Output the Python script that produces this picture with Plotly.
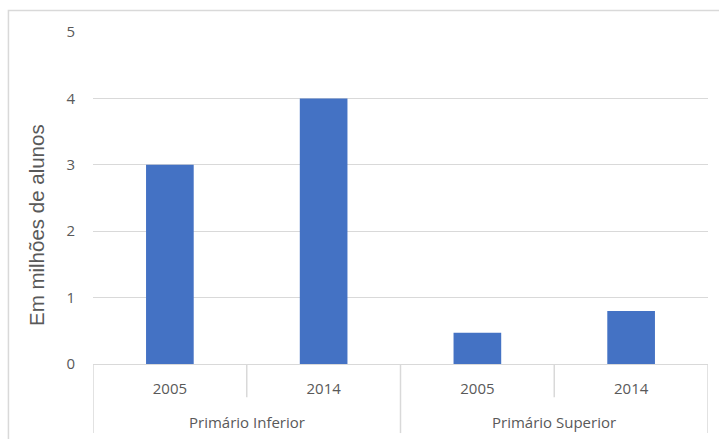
import plotly.graph_objects as go

# Student enrolment (millions) by school level and year
groups = ["Primário Inferior", "Primário Superior"]
years = ["2005", "2014", "2005", "2014"]
values = [3.0, 4.0, 0.47, 0.8]
y_ticks = [0, 1, 2, 3, 4, 5]

positions = list(range(len(years)))

bar_color = "#4472C4"
grid_color = "#D9D9D9"
text_color = "#595959"
label_font = dict(family="Open Sans", size=15, color=text_color)

fig = go.Figure(
    go.Bar(
        x=positions,
        y=values,
        width=0.31,
        marker=dict(color=bar_color, line=dict(width=0)),
        hoverinfo="skip",
    )
)

fig.update_layout(
    width=719,
    height=439,
    margin=dict(l=93, r=11, t=32, b=75),
    paper_bgcolor="white",
    plot_bgcolor="white",
    showlegend=False,
    xaxis=dict(
        range=[-0.5, len(years) - 0.5],
        tickmode="array",
        tickvals=positions,
        ticktext=years,
        tickfont=label_font,
        ticks="",
        ticklabelstandoff=11,
        showgrid=False,
        zeroline=False,
        showline=True,
        linecolor=grid_color,
        linewidth=1,
        fixedrange=True,
    ),
    yaxis=dict(
        range=[0, 5],
        tickmode="array",
        tickvals=y_ticks,
        tickfont=label_font,
        ticks="",
        ticklabelstandoff=17,
        showgrid=True,
        gridcolor=grid_color,
        gridwidth=1,
        zeroline=False,
        showline=False,
        fixedrange=True,
    ),
)

# y-axis title, centred on the full chart height
fig.add_annotation(
    text="Em milhões de alunos",
    textangle=-90,
    xref="paper", yref="paper",
    x=-0.091, y=0.4187,
    xanchor="center", yanchor="middle",
    showarrow=False,
    font=dict(family="Liberation Sans", size=20.5, color=text_color),
)

# Group labels under each pair of years
per_group = len(years) // len(groups)
for gi, name in enumerate(groups):
    centre = gi * per_group + (per_group - 1) / 2
    fig.add_annotation(
        text=name,
        xref="x", yref="paper",
        x=centre, y=-0.1747,
        xanchor="center", yanchor="middle",
        showarrow=False,
        font=label_font,
    )

# Category dividers: long ones at group edges, short ones between years
for i in range(len(years) + 1):
    edge = i - 0.5
    is_group_edge = i % per_group == 0
    fig.add_shape(
        type="line",
        xref="x", yref="paper",
        x0=edge, x1=edge,
        y0=0, y1=-0.208 if is_group_edge else -0.1,
        line=dict(color=grid_color, width=1.5),
    )

# Outer chart frame
fig.add_shape(
    type="rect",
    xref="paper", yref="paper",
    x0=-0.1375, x1=1.05, y0=-0.3, y1=1.0648,
    line=dict(color=grid_color, width=1.5),
    fillcolor="rgba(0,0,0,0)",
    layer="below",
)

fig.write_html("out.html")
